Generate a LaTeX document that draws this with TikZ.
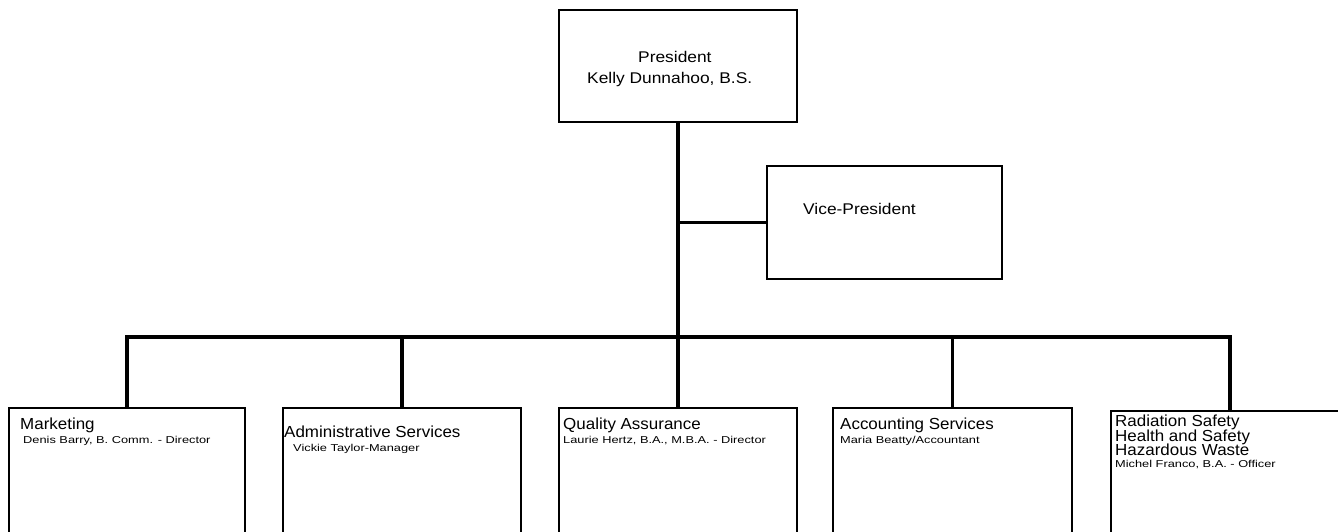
\documentclass[tikz,border=0pt]{standalone}
\usepackage{fontspec}
\setmainfont{Liberation Sans}
\newfontfamily\subfnt[FakeStretch=1.28]{Liberation Sans}
\newfontfamily\ttlfnt[FakeStretch=1.06]{Liberation Sans}
\newfontfamily\prsfnt[FakeStretch=1.12]{Liberation Sans}
\begin{document}
\begin{tikzpicture}[x=1pt,y=-1pt,
  box/.style={draw=black,line width=1.6pt,fill=none,inner sep=0pt,outer sep=0pt},
  conn/.style={draw=black,line width=3.6pt},
  ttl/.style={anchor=base west,inner sep=0pt,font=\ttlfnt\fontsize{16}{18}\selectfont},
  sub/.style={anchor=base west,inner sep=0pt,font=\subfnt\fontsize{10}{12}\selectfont},
  ptxt/.style={anchor=base west,inner sep=0pt,font=\prsfnt\fontsize{15.5}{17}\selectfont}]
\clip (0,0) rectangle (1338,531);
\fill[white] (0,0) rectangle (1338,531);
% boxes
\node[box,minimum width=238pt,minimum height=112pt] (pres) at (678,66) {};
\node[box,minimum width=235pt,minimum height=113pt] (vp) at (884.5,222.5) {};
\node[box,minimum width=236pt,minimum height=152pt] (mkt) at (127,484) {};
\node[box,minimum width=238pt,minimum height=152pt] (adm) at (402,484) {};
\node[box,minimum width=238pt,minimum height=152pt] (qa) at (678,484) {};
\node[box,minimum width=239pt,minimum height=152pt] (acc) at (952.5,484) {};
\node[box,minimum width=238pt,minimum height=149pt] (rad) at (1230,485.5) {};
% connectors
\coordinate (busC) at (678,337);
\draw[conn] (pres.south) -- (qa.north);
\draw[conn] (mkt.north) |- (busC) -| (rad.north);
\draw[conn] (adm.north) -- (adm.north |- busC);
\draw[conn] (acc.north) -- (acc.north |- busC);
\coordinate (vpJ) at (pres.south |- vp.west);
\draw[conn] (vpJ) -- (vp.west);
% texts
\node[ptxt] (t1) at (638,62) {President};
\node[ptxt] (t2) at (587,83) {Kelly Dunnahoo, B.S.};
\node[ptxt] (t3) at (803,214) {Vice-President};
\node[ttl] (m1) at (20,429) {Marketing};
\node[sub] (m2) at (23,443) {Denis Barry, B. Comm. - Director};
\node[ttl] (a1) at (284,437) {Administrative Services};
\node[sub] (a2) at (293,451) {Vickie Taylor-Manager};
\node[ttl] (q1) at (563,429) {Quality Assurance};
\node[sub] (q2) at (563,443) {Laurie Hertz, B.A., M.B.A. - Director};
\node[ttl] (c1) at (840,429) {Accounting Services};
\node[sub] (c2) at (840,443) {Maria Beatty/Accountant};
\node[ttl] (r1) at (1115,426) {Radiation Safety};
\node[ttl] (r2) at (1115,441) {Health and Safety};
\node[ttl] (r3) at (1115,455) {Hazardous Waste};
\node[sub] (r4) at (1115,467) {Michel Franco, B.A. - Officer};
\end{tikzpicture}
\end{document}
